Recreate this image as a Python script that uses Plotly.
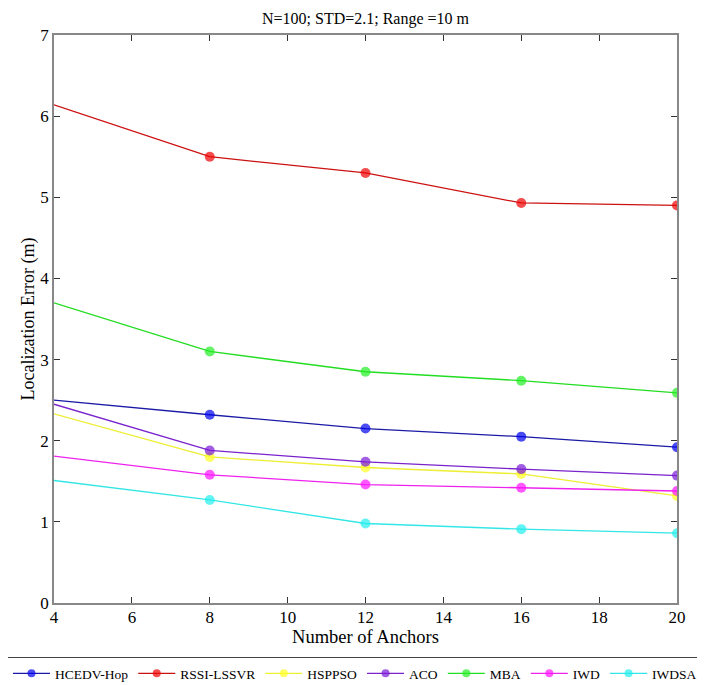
import plotly.graph_objects as go

anchors = [4, 8, 12, 16, 20]
hcedv = [2.50, 2.32, 2.15, 2.05, 1.92]
rssi = [6.14, 5.50, 5.30, 4.93, 4.90]
hsppso = [2.33, 1.80, 1.67, 1.59, 1.32]
aco = [2.45, 1.88, 1.74, 1.65, 1.57]
mba = [3.70, 3.10, 2.85, 2.74, 2.59]
iwd = [1.81, 1.58, 1.46, 1.42, 1.38]
iwdsa = [1.51, 1.27, 0.98, 0.91, 0.86]

series = [
    ("HCEDV-Hop", hcedv, "#1a1aa6", "#0000ee"),
    ("RSSI-LSSVR", rssi, "#cc1111", "#ee0000"),
    ("HSPPSO", hsppso, "#eeee33", "#ffff22"),
    ("ACO", aco, "#7a22cc", "#7a1ad6"),
    ("MBA", mba, "#22dd22", "#22ee22"),
    ("IWD", iwd, "#ee22ee", "#ff11ff"),
    ("IWDSA", iwdsa, "#33e6e6", "#22eeee"),
]

font = "Liberation Serif, Times New Roman, serif"
fig = go.Figure()
for name, vals, lc, mc in series:
    fig.add_trace(go.Scatter(
        x=anchors, y=vals, name=name, mode="lines+markers",
        line=dict(color=lc, width=1.3),
        marker=dict(color=mc, size=[0, 10, 10, 10, 10], line=dict(width=0)),
    ))

# page body has an 8px margin, so the figure is laid out 8px left/up of screen coords
W, H = 760, 685
fig.update_layout(
    width=W, height=H,
    margin=dict(l=46, r=W - 669, t=27, b=90, autoexpand=False),
    paper_bgcolor="white", plot_bgcolor="white",
    font=dict(family=font, size=16, color="black"),
    title=dict(text="N=100; STD=2.1; Range =10 m", x=0.5, xref="paper", xanchor="center",
               yref="container", y=0.985, yanchor="middle", font=dict(size=16)),
    showlegend=True,
    legend=dict(orientation="h", x=1.0417, xanchor="right", y=-0.0951, yanchor="top",
                bordercolor="#444", borderwidth=1, font=dict(size=13.5),
                itemwidth=37, tracegroupgap=0),
)
fig.update_xaxes(range=[4, 20], tickvals=[4, 6, 8, 10, 12, 14, 16, 18, 20],
                 ticks="inside", ticklen=6, tickcolor="#333", showline=True,
                 linecolor="#888", linewidth=1.5, mirror="ticks", showgrid=False,
                 zeroline=False, tickfont=dict(size=17), automargin=False,
                 ticklabelstandoff=-2,
                 title=dict(text="Number of Anchors", font=dict(size=18.5), standoff=0))
fig.update_yaxes(range=[0, 7], tickvals=list(range(8)),
                 ticks="inside", ticklen=6, tickcolor="#333", showline=True,
                 linecolor="#888", linewidth=1.5, mirror="ticks", showgrid=False,
                 zeroline=False, tickfont=dict(size=17), automargin=False,
                 title=dict(text="Localization Error (m)", font=dict(size=18), standoff=1))

fig.write_html("out.html")
